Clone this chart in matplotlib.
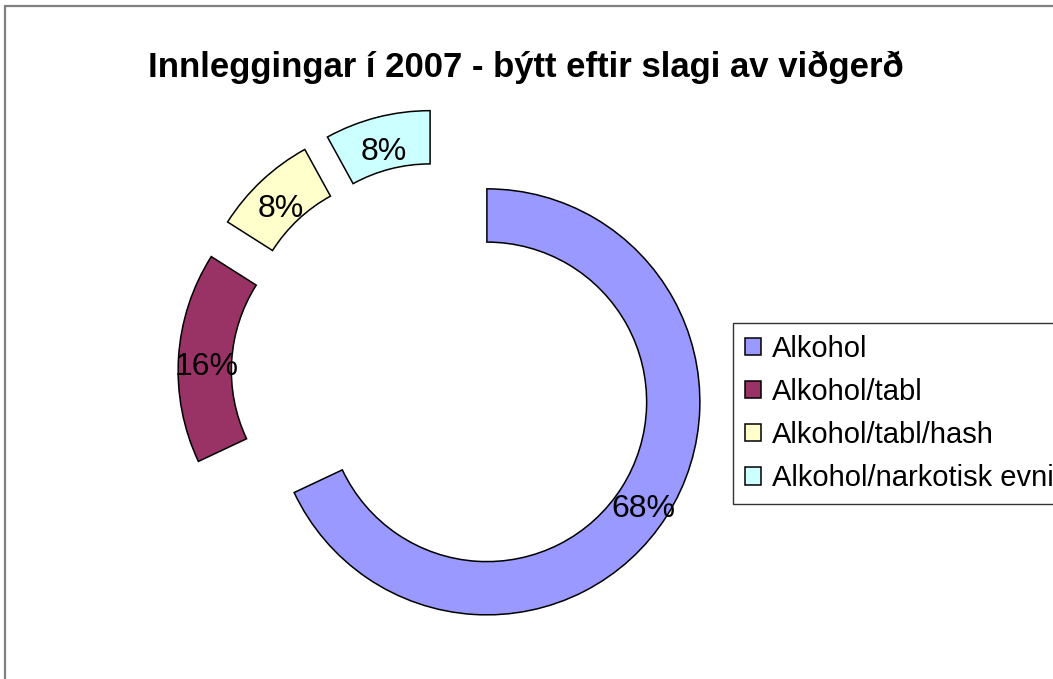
import matplotlib
matplotlib.use('Agg')
import matplotlib.pyplot as plt
from matplotlib.patches import Rectangle

plt.rcParams['font.family'] = ['Liberation Sans', 'DejaVu Sans']

title = 'Innleggingar í 2007 - býtt eftir slagi av viðgerð'
labels = ['Alkohol', 'Alkohol/tabl', 'Alkohol/tabl/hash', 'Alkohol/narkotisk evnir']
values = [68, 16, 8, 8]
colors = ['#9999FF', '#993366', '#FFFFCC', '#CCFFFF']

W, H = 1053, 679
cx, cy, R = 443, 374, 213   # pie centre and radius in pixels

fig = plt.figure(figsize=(W / 100, H / 100), dpi=100)
ax = fig.add_axes([0, 0, 1, 1])

wedges, texts, autotexts = ax.pie(
    values, colors=colors, explode=[0.244] * len(values),
    startangle=90, counterclock=False, radius=1,
    autopct='%1.0f%%', pctdistance=0.87,
    wedgeprops=dict(width=0.25, edgecolor='black', linewidth=1.1),
    textprops=dict(fontsize=23, color='black'))

# Excel puts the percentages a little lower than matplotlib does
for t in autotexts:
    x, y = t.get_position()
    t.set_position((x, y - 8 / R))

ax.set_xlim(-cx / R, (W - cx) / R)
ax.set_ylim((cy - H) / R, cy / R)
ax.axis('off')

fig.text(526 / W, 1 - 77.5 / H, title, ha='center', va='baseline',
         fontsize=25, fontweight='bold')

leg = fig.legend(wedges, labels, loc='upper left',
                 bbox_to_anchor=(733 / W, 1 - 323 / H), bbox_transform=fig.transFigure,
                 borderaxespad=0, fontsize=21, frameon=True, fancybox=False,
                 handlelength=0.55, handleheight=0.55, handletextpad=0.4,
                 labelspacing=0.52, borderpad=0.4)
leg.get_frame().set_edgecolor('black')
leg.get_frame().set_linewidth(1.0)

# outer chart border (only top and left visible)
fig.add_artist(Rectangle((5 / W, -0.1), 1.2, 1.1 - 6.5 / H, transform=fig.transFigure,
                         fill=False, edgecolor='#808080', linewidth=1.6))

fig.savefig('out.png', dpi=100)
